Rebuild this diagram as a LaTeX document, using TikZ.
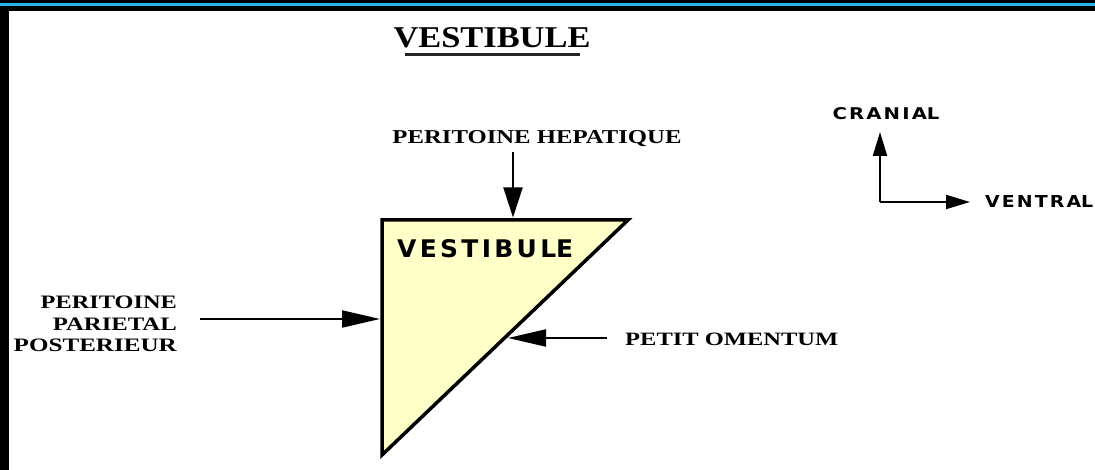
\documentclass[tikz,border=0pt]{standalone}
\usepackage{fontspec}
\usepackage{graphicx}
\usetikzlibrary{arrows.meta}
\newfontfamily\serifb{Liberation Serif}
\newfontfamily\squaref{DejaVu Sans Condensed}
\definecolor{vest}{RGB}{255,255,200}
\definecolor{cyanline}{RGB}{40,180,230}
\tikzset{
  lbl/.style={inner sep=0pt, font=\serifb\bfseries\fontsize{19}{21.5}\selectfont},
  sqlbl/.style={inner sep=0pt, font=\squaref\bfseries},
  bigarrow/.style={line width=2pt, -{Triangle[length=38pt,width=17pt]}},
  toparrow/.style={line width=2pt, -{Triangle[length=30pt,width=19pt]}},
  comparrow/.style={line width=2pt, -{Triangle[length=24pt,width=14pt]}},
}
\begin{document}
\begin{tikzpicture}[x=1pt,y=1pt]
\useasboundingbox (0,0) rectangle (1095,470);
% frame
\fill[black] (0,0) rectangle (1095,470);
\fill[cyanline] (0,463.5) rectangle (1095,466.5);
\fill[white] (9,0) rectangle (1095,459);
% title
\node[lbl, anchor=center] (title) at (492,432) {\resizebox{197pt}{20pt}{VESTIBULE}};
\draw[line width=3pt, black!85] (405,415) -- (580,415);
% triangle
\coordinate (tl) at (382,250);
\coordinate (tr) at (628,250);
\coordinate (bt) at (382,15);
\filldraw[fill=vest, draw=black, line width=3.5pt, line join=miter] (tl) -- (tr) -- (bt) -- cycle;
\node[sqlbl, anchor=west] (vest) at (397,221) {\resizebox{176pt}{18pt}{\addfontfeature{LetterSpace=12}VESTIBUL\addfontfeature{LetterSpace=0}E}};
% peritoine hepatique
\node[lbl] (hep) at (537,331) {\resizebox{289pt}{13pt}{PERITOINE HEPATIQUE}};
\coordinate (hepS) at (513,318);
\coordinate (hepT) at (513,252.5);
\draw[toparrow] (hepS) -- (hepT);
% peritoine parietal posterieur
\node[lbl, anchor=east, align=right] (ppp) at (177,146)
  {\scalebox{1.28}[1]{PERITOINE}\\\scalebox{1.3}[1]{PARIETAL}\\\scalebox{1.32}[1]{POSTERIEUR}};
\coordinate (pppS) at (200,151);
\coordinate (pppT) at (380,151);
\draw[bigarrow] (pppS) -- (pppT);
% petit omentum
\node[lbl, anchor=west] (pom) at (625,131) {\resizebox{213pt}{12.5pt}{PETIT OMENTUM}};
\coordinate (pomS) at (607,132);
\coordinate (pomT) at (508,132);
\draw[bigarrow] (pomS) -- (pomT);
% compass
\coordinate (corner) at (880,268);
\coordinate (up) at (880,338);
\coordinate (right) at (970,268);
\draw[comparrow] (corner) -- (up);
\draw[comparrow] (corner) -- (right);
\node[sqlbl] (cran) at (886,356) {\resizebox{107pt}{12pt}{\addfontfeature{LetterSpace=10}CRANIA\addfontfeature{LetterSpace=0}L}};
\node[sqlbl, anchor=west] (vent) at (985,268) {\resizebox{108pt}{12pt}{\addfontfeature{LetterSpace=10}VENTRA\addfontfeature{LetterSpace=0}L}};
\end{tikzpicture}
\end{document}
